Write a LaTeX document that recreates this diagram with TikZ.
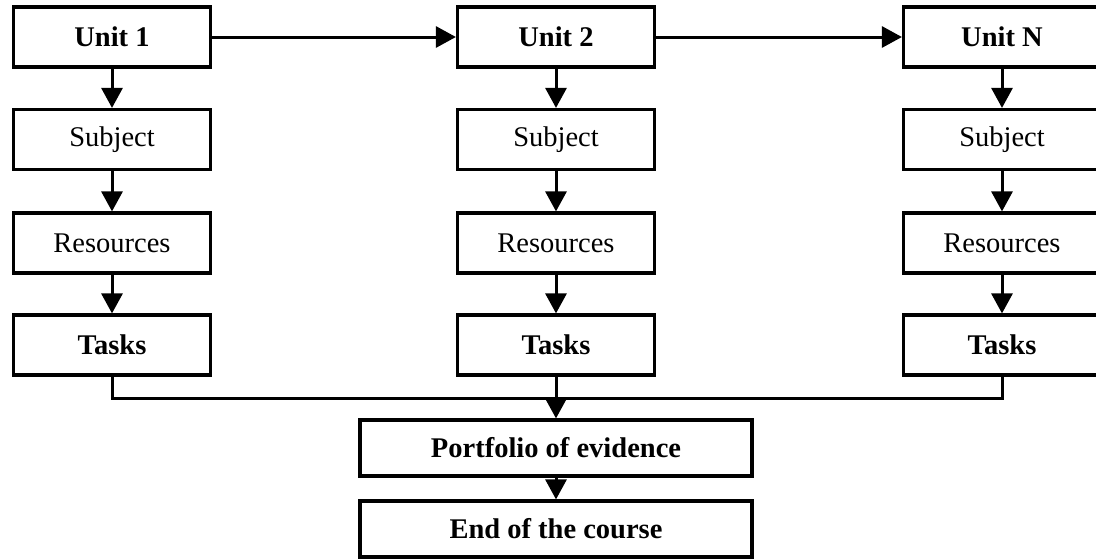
\documentclass[tikz,border=0pt]{standalone}
\usepackage{fontspec}
\setmainfont{Liberation Serif}
\usetikzlibrary{arrows.meta}
\begin{document}
\begin{tikzpicture}[x=1pt,y=-1pt,
  box/.style={draw,line width=3.2pt,minimum width=197pt,minimum height=60pt,inner sep=0pt,font=\fontsize{28.5}{33}\selectfont},
  bbox/.style={box,font=\fontsize{28.5}{33}\selectfont\bfseries},
  wide/.style={bbox,minimum width=392pt,minimum height=56pt},
  conn/.style={line width=3pt,-{Triangle[length=20pt,width=21pt]}},
  line/.style={line width=3pt}]
\useasboundingbox (0,0) rectangle (1096,558);
\node[bbox] (u1) at (112,37) {Unit 1};
\node[bbox] (u2) at (556,37) {Unit 2};
\node[bbox] (uN) at (1002,37) {Unit N};
\node[box] (s1) at (112,139.5) {Subject};
\node[box] (s2) at (556,139.5) {Subject};
\node[box] (sN) at (1002,139.5) {Subject};
\node[box] (r1) at (112,243) {Resources};
\node[box] (r2) at (556,243) {Resources};
\node[box] (rN) at (1002,243) {Resources};
\node[bbox] (t1) at (112,345) {Tasks};
\node[bbox] (t2) at (556,345) {Tasks};
\node[bbox] (tN) at (1002,345) {Tasks};
\node[wide] (pf) at (556,448) {Portfolio of evidence};
\node[wide] (ec) at (556,529) {End of the course};
\coordinate (j) at (556,398);
\draw[conn] (u1) -- (u2);
\draw[conn] (u2) -- (uN);
\foreach \c in {1,2,N}{
  \draw[conn] (u\c) -- (s\c);
  \draw[conn] (s\c) -- (r\c);
  \draw[conn] (r\c) -- (t\c);
}
\draw[line] (t1.south) |- (j);
\draw[line] (tN.south) |- (j);
\draw[conn] (t2) -- (pf);
\draw[conn] (pf) -- (ec);
\end{tikzpicture}
\end{document}
